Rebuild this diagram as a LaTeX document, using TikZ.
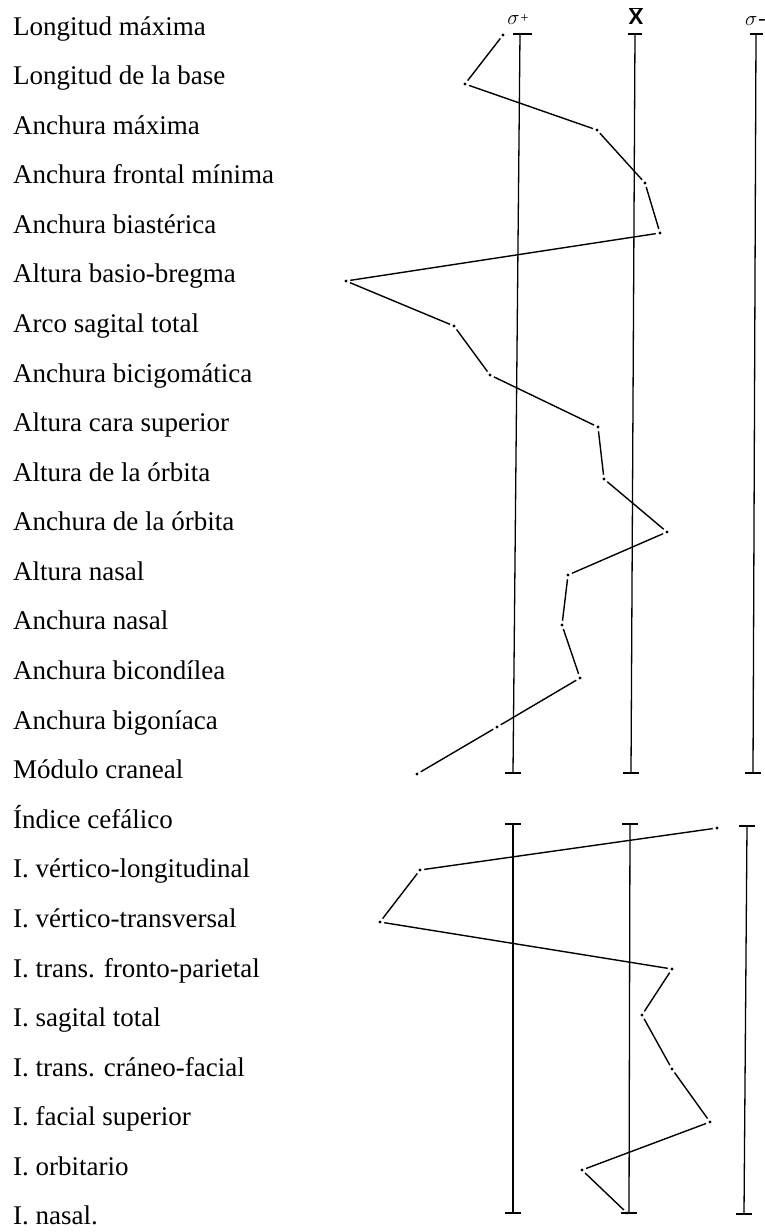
\documentclass[tikz,border=0pt]{standalone}
\usepackage{fontspec}
\setmainfont{Liberation Serif}
\newfontfamily\hsans{Liberation Sans}
\begin{document}
\begin{tikzpicture}[x=1pt,y=-1pt,
 lbl/.style={anchor=base west, inner sep=0pt, font=\fontsize{27}{32}\selectfont},
 hdr/.style={inner sep=0pt, font=\fontsize{22}{26}\selectfont},
 pt/.style={circle, fill=black, inner sep=0pt, minimum size=3.2pt},
 prof/.style={line width=1.4pt, shorten <=2.5pt, shorten >=2.5pt},
 axis/.style={line width=1.3pt},
 tickmark/.style={line width=2.4pt}]
\useasboundingbox (0,0) rectangle (764,1232);
% labels
\foreach \t [count=\i from 0] in {Longitud máxima, Longitud de la base, Anchura máxima, Anchura frontal mínima, Anchura biastérica, Altura basio-bregma, Arco sagital total, Anchura bicigomática, Altura cara superior, Altura de la órbita, Anchura de la órbita, Altura nasal, Anchura nasal, Anchura bicondílea, Anchura bigoníaca, Módulo craneal, Índice cefálico, I. vértico-longitudinal, I. vértico-transversal, I. trans. fronto-parietal, I. sagital total, I. trans. cráneo-facial, I. facial superior, I. orbitario, I. nasal.}
  \node[lbl] (lab\i) at (13,{35+\i*49.58}) {\t};
% headers
\node[hdr] (hplus) at (518,20) {$\sigma$\kern1pt\raisebox{2pt}{\fontsize{14}{16}\selectfont +}};
\node[hdr] (hmean) at (636,16) {$\overline{\hbox{\hsans\bfseries X}}$};
\node[hdr, anchor=west] (hminus) at (745,21) {$\sigma$\kern1pt-};
% axes section 1
\coordinate (a1t) at (520,34); \coordinate (a1b) at (513,773);
\coordinate (b1t) at (635,34); \coordinate (b1b) at (631,773);
\coordinate (c1t) at (756,34); \coordinate (c1b) at (753,773);
% axes section 2
\coordinate (a2t) at (513,824); \coordinate (a2b) at (513,1213);
\coordinate (b2t) at (630,824); \coordinate (b2b) at (629,1213);
\coordinate (c2t) at (747,826); \coordinate (c2b) at (744,1214);
\foreach \n in {a1,b1,c1,a2,b2,c2} \draw[axis] (\n t) -- (\n b);
% ticks
\draw[tickmark] (a1t) ++(-7,0) -- ++(19,0);
\draw[tickmark] (b1t) ++(-7,0) -- ++(14,0);
\draw[tickmark] (c1t) ++(-6,0) -- ++(13,0);
\foreach \n in {a1b,b1b,c1b,a2t,b2t,c2t,a2b,b2b,c2b}
  \draw[tickmark] (\n) ++(-8,0) -- ++(16,0);
% profile points
\foreach \x/\y [count=\k] in {503/35, 465/84, 597/130, 645/183, 660/233, 346/281, 454/326, 490/375, 598/427, 604/479, 667/532, 568/575, 562/625, 580/678, 497/727, 417/774, 717/828, 420/870, 380/922, 672/969, 642/1015, 672/1069, 710/1122, 582/1170, 627/1213}
  \node[pt] (p\k) at (\x,\y) {};
\foreach \a/\b in {1/2,2/3,3/4,4/5,5/6,6/7,7/8,8/9,9/10,10/11,11/12,12/13,13/14,14/15,15/16,17/18,18/19,19/20,20/21,21/22,22/23,23/24,24/25}
  \draw[prof] (p\a) -- (p\b);
\end{tikzpicture}
\end{document}
